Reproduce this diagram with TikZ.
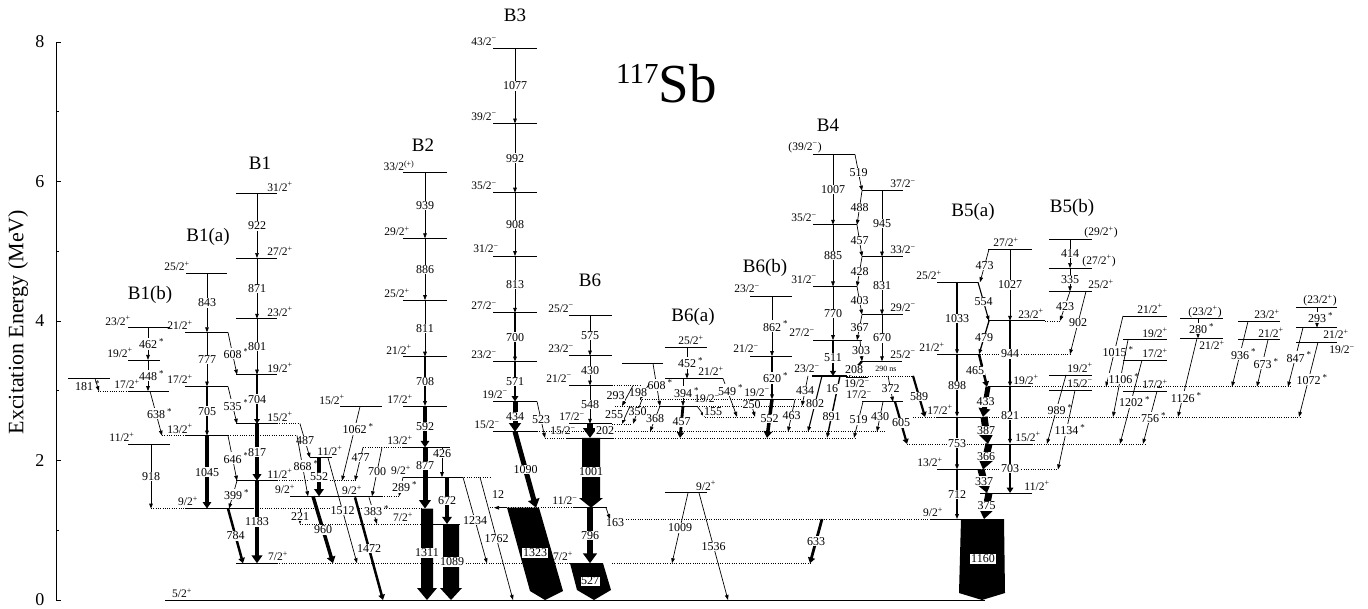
\documentclass[tikz,border=0pt]{standalone}
\usepackage{fontspec}
\setmainfont{Liberation Serif}
\usetikzlibrary{arrows.meta}
\newcommand\EY[1]{600-0.06975*#1}
\newcommand\Pp{\textsuperscript{+}}
\newcommand\Mm{\textsuperscript{−}}
\newcommand\astk{\rlap{\,\raisebox{0.35em}{\fontsize{9}{9}\selectfont *}}}
\NewDocumentCommand\lvl{O{} m m m}{\draw[lev,#1] (#2,{\EY{#4}}) -- (#3,{\EY{#4}});}
\NewDocumentCommand\dlv{m m m}{\draw[dlev] (#1,{\EY{#3}}) -- (#2,{\EY{#3}});}
\NewDocumentCommand\gmm{O{} O{} m m m m m}{\draw[gam,#1] (#3,{\EY{#4}}) -- node[glab,pos=0.5,#2]{#7} (#5,{\EY{#6}});}
\NewDocumentCommand\spn{O{} m m m}{\node[slab,#1] at (#2,{\EY{#3}-7}) {#4};}
\tikzset{
  lev/.style={line width=0.8pt},
  dlev/.style={line width=0.6pt, dash pattern=on 0.9pt off 1.4pt},
  gam/.style={line width=0.7pt, -{Triangle[length=5pt,width=3.6pt]}},
  tk/.style={line width=#1, -{Triangle[length=2pt 1.3,width=1.5pt 2]}},
  tk/.default=3pt,
  glab/.style={fill=white, inner sep=0.7pt, font=\fontsize{12}{12}\selectfont},
  slab/.style={inner sep=0pt, font=\fontsize{11.5}{11.5}\selectfont},
  btit/.style={font=\fontsize{19}{19}\selectfont},
  ticklab/.style={font=\fontsize{18}{18}\selectfont, anchor=east}
}
\begin{document}
\begin{tikzpicture}[x=1pt,y=-1pt]
\fill[white] (0,0) rectangle (1368,608);
\useasboundingbox (0,0) rectangle (1368,608);
% axis
\draw[line width=0.8pt] (56,42) -- (56,600);
\foreach \k in {0,2,4,6,8}{\draw[line width=0.8pt] (56,{600-69.75*\k}) -- (61,{600-69.75*\k});
  \node[ticklab] at (48,{600-69.75*\k}) {\k};}
\foreach \k in {1,3,5,7}{\draw[line width=0.8pt] (56,{600-69.75*\k}) -- (59,{600-69.75*\k});}
\node[rotate=90, font=\fontsize{22}{22}\selectfont] at (18,322) {Excitation Energy (MeV)};
\node[anchor=base west, inner sep=0pt] at (616,102) {{\fontsize{29}{29}\selectfont\raisebox{19pt}{117}}{\fontsize{55}{55}\selectfont Sb}};
% titles
\node[btit] at (150,295) {B1(b)};
\node[btit] at (208,237) {B1(a)};
\node[btit] at (260,163) {B1};
\node[btit] at (423,145) {B2};
\node[btit] at (515,15) {B3};
\node[btit] at (590,280) {B6};
\node[btit] at (693,317) {B6(a)};
\node[btit] at (765,268) {B6(b)};
\node[btit] at (828,125) {B4};
\node[btit] at (973,212) {B5(a)};
\node[btit] at (1072,208) {B5(b)};
% ---------- levels ----------
\lvl{165}{985}{0}
% B1(b)
\lvl{128}{170}{3904}\lvl{128}{160}{3442}\lvl{128}{169}{2994}\dlv{98}{128}{2994}
\lvl{68}{110}{3175}\lvl{128}{170}{2229}
% B1(a)
\lvl{186}{227}{4681}\lvl{185}{228}{3838}\lvl{185}{228}{3061}\lvl{185}{228}{2356}
\dlv{162}{185}{2356}\dlv{228}{297}{2356}
\lvl{185}{253}{1311}\dlv{151}{185}{1311}\dlv{253}{421}{1311}
% B1
\lvl{236}{277}{5825}\lvl{236}{277}{4903}\lvl{236}{277}{4032}\lvl{236}{277}{3231}
\lvl{236}{277}{2527}\dlv{277}{300}{2527}
\lvl{236}{277}{1710}\dlv{277}{357}{1710}
\lvl{236}{277}{527}\dlv{277}{570}{527}\dlv{612}{810}{527}
% middle
\lvl{340}{382}{2772}\lvl{310}{332}{2039}\lvl{290}{382}{1487}\dlv{382}{400}{1487}
\dlv{363}{403}{2188}
% B2
\lvl{403}{447}{6124}\lvl{403}{447}{5185}\lvl{403}{447}{4299}\lvl{403}{447}{3488}
\lvl{403}{447}{2780}\lvl{403}{450}{2188}
\lvl{403}{462}{1761}\dlv{462}{490}{1761}
\lvl{420}{460}{1089}\dlv{300}{420}{1089}
% B3
\lvl{493}{537}{7908}\lvl{493}{537}{6831}\lvl{493}{537}{5839}\lvl{493}{537}{4931}
\lvl{493}{537}{4118}\lvl{493}{537}{3418}\lvl{493}{537}{2847}\lvl{493}{537}{2413}
\dlv{537}{885}{2413}
\lvl{573}{607}{1323}\dlv{490}{573}{1323}
% B6
\lvl{569}{612}{4079}\lvl{569}{612}{3504}\lvl{569}{612}{3074}\lvl{569}{612}{2526}
\dlv{612}{640}{3074}\dlv{612}{632}{2526}
\lvl{567}{613}{2324}\dlv{545}{567}{2324}\dlv{613}{855}{2324}
\dlv{610}{930}{1160}\lvl{930}{961}{1160}
% B6(a)
\lvl{622}{663}{3389}\lvl{665}{707}{3627}\lvl{665}{723}{3175}
\lvl{660}{697}{2781}\dlv{615}{660}{2781}\dlv{697}{808}{2781}
\dlv{705}{755}{2626}
\lvl{665}{707}{1536}
% B6(b)
\lvl{750}{792}{4358}\lvl{750}{792}{3496}
\lvl{750}{793}{2876}\dlv{640}{750}{2876}\dlv{793}{800}{2876}
% B4
\lvl{813}{855}{6387}\lvl{862}{903}{5868}\lvl{813}{857}{5380}\lvl{862}{903}{4923}
\lvl{813}{857}{4495}\lvl{862}{903}{4092}\lvl{813}{862}{3725}\lvl{860}{902}{3422}
\lvl[line width=2pt]{812}{847}{3214}\dlv{847}{913}{3214}
\lvl{846}{868}{3190}
\lvl{862}{903}{2843}
% B5(a)
\lvl{937}{978}{4556}\lvl{937}{980}{3523}\dlv{980}{1070}{3523}
\lvl{937}{980}{2625}\dlv{913}{937}{2625}\dlv{980}{1300}{2625}
\lvl{937}{980}{1872}\dlv{980}{1058}{1872}
\lvl{988}{1032}{5029}\lvl{988}{1045}{4002}\dlv{1045}{1060}{4002}
\lvl{988}{1030}{3058}\dlv{1030}{1290}{3058}
\lvl{985}{1032}{2238}\dlv{907}{985}{2238}\dlv{1032}{1145}{2238}
\lvl{980}{1032}{1535}
% B5(b)
\lvl{1049}{1092}{5174}\lvl{1049}{1092}{4760}\lvl{1049}{1092}{4425}
\lvl{1049}{1092}{3227}\lvl{1049}{1092}{3006}
% far right
\lvl{1123}{1167}{4073}\lvl{1123}{1167}{3731}\lvl{1123}{1167}{3440}\lvl{1123}{1167}{2994}
\lvl{1180}{1223}{4031}\lvl{1180}{1223}{3751}
\lvl{1238}{1280}{3994}\lvl{1238}{1280}{3731}
\lvl{1296}{1337}{4198}\lvl{1296}{1337}{3905}\lvl{1296}{1337}{3697}
% ---------- big boxes ----------
\fill (421,508.6) -- (433,508.6) -- (433,588) -- (437,588) -- (427,600) -- (417,588) -- (421,588) -- cycle;
\node[glab] at (427,553) {1311};
\fill (443,524) -- (459,524) -- (459,588) -- (462,588) -- (451,600) -- (440,588) -- (443,588) -- cycle;
\node[glab] at (452,562) {1089};
\fill (507,507.7) -- (539,507.7) -- (563,591) -- (545,600) -- (530,591) -- cycle;
\node[glab] at (535,553) {1323};
\fill (582,437.9) -- (600,437.9) -- (600,498) -- (603,498) -- (591,507.7) -- (579,498) -- (582,498) -- cycle;
\node[glab] at (591,472) {1001};
\fill (570,563.2) -- (603,563.2) -- (611,590) -- (594,600) -- (577,590) -- cycle;
\node[fill=white, draw, line width=0.4pt, inner sep=1pt, font=\fontsize{12}{12}\selectfont] at (590,581) {527};
\fill (961,519) -- (1004,519) -- (1005,593) -- (982,600) -- (959,593) -- cycle;
\node[fill=white, inner sep=1.2pt, font=\fontsize{12}{12}\selectfont] at (983,559) {1160};
% ---------- gammas ----------
% B1(b)
\gmm{148}{3904}{148}{3442}{462\astk}
\gmm{148}{3442}{148}{2994}{448\astk}
\gmm{150}{2994}{162}{2356}{638\astk}
\gmm[][xshift=-13pt,yshift=-1pt]{95}{3175}{99}{2994}{181\astk}
\gmm[line width=1pt]{151}{2229}{151}{1311}{918}
% B1(a)
\gmm{207}{4681}{207}{3838}{843}
\gmm[line width=0.9pt]{207}{3838}{207}{3061}{777}
\gmm[line width=1.1pt]{207}{3061}{207}{2356}{705}
\gmm[tk=3.5pt]{207}{2356}{207}{1311}{1045}
\gmm{228}{3838}{237}{3231}{608\astk}
\gmm{228}{3061}{237}{2527}{535\astk}
\gmm{228}{2356}{237}{1710}{646\astk}
\gmm{237}{1710}{229}{1311}{399\astk}
\gmm[tk=2.5pt]{228}{1311}{243}{527}{784}
% B1
\gmm{257}{5825}{257}{4903}{922}
\gmm{257}{4903}{257}{4032}{871}
\gmm{257}{4032}{257}{3231}{801}
\gmm[tk=2pt]{257}{3231}{257}{2527}{704}
\gmm[tk=3.5pt]{257}{2527}{257}{1710}{817}
\gmm[tk=4.5pt]{257}{1710}{257}{527}{1183}
% middle
\gmm{300}{2527}{310}{2039}{487}
\gmm{297}{2356}{308}{1487}{868\astk}
\gmm[tk=4pt]{319}{2039}{319}{1487}{552}
\gmm{328}{2039}{357}{527}{1512}
\gmm[tk=3.5pt]{313}{1487}{333}{527}{960}
\gmm[][pos=0.3]{360}{2772}{342}{1710}{1062\astk}
\gmm[][pos=0.3]{363}{2188}{355}{1710}{477}
\gmm{382}{2188}{372}{1487}{700}
\gmm{369}{1472}{377}{1089}{383\astk}
\gmm[tk=2.5pt]{355}{1472}{383}{0}{1472}
\gmm{300}{1311}{300}{1089}{221}
\gmm{403}{1761}{399}{1487}{289\astk}
% B2
\gmm{425}{6124}{425}{5185}{939}
\gmm{425}{5185}{425}{4299}{886}
\gmm{425}{4299}{425}{3488}{811}
\gmm[line width=1.5pt]{425}{3488}{425}{2780}{708}
\gmm[tk=3.5pt]{425}{2780}{425}{2188}{592}
\gmm[tk=5pt][pos=0.3]{425}{2188}{425}{1311}{877}
\gmm[][pos=0.2]{442}{2188}{442}{1761}{426}
\gmm[tk=4pt]{447}{1761}{447}{1089}{672}
\gmm{463}{1761}{487}{527}{1234}
\gmm{480}{1761}{513}{0}{1762}
% B3
\gmm{515}{7908}{515}{6831}{1077}
\gmm{515}{6831}{515}{5839}{992}
\gmm{515}{5839}{515}{4931}{908}
\gmm{515}{4931}{515}{4118}{813}
\gmm[line width=1.2pt]{515}{4118}{515}{3418}{700}
\gmm[tk=2.5pt]{515}{3418}{515}{2847}{571}
\gmm[tk=5pt]{515}{2847}{515}{2413}{434}
\gmm{537}{2847}{545}{2324}{523}
\gmm[tk=5pt]{515}{2413}{536}{1323}{1090}
\draw[gam] (506,{\EY{1323}}) -- (494,{\EY{1323}});
\node[glab] at (498,495) {12};
% B6
\gmm{590}{4079}{590}{3504}{575}
\gmm{590}{3504}{590}{3074}{430}
\gmm{590}{3074}{590}{2526}{548}
\gmm[tk=6pt][xshift=15pt]{590}{2526}{590}{2324}{202}
\gmm[tk=6pt]{590}{1323}{590}{527}{796}
\gmm[][xshift=7pt,yshift=-9pt]{606}{1323}{610}{1160}{163}
% B6(a)
\gmm{687}{3627}{687}{3175}{452\astk}
\gmm{683}{3175}{683}{2781}{394\astk}
\gmm[tk=2.8pt]{683}{2781}{680}{2324}{457}
\gmm[][pos=0.3]{723}{3175}{737}{2626}{549\astk}
\gmm[][xshift=12pt]{697}{2781}{705}{2626}{155}
\gmm{653}{3389}{660}{2781}{608\astk}
\gmm{660}{2781}{650}{2413}{368}
\gmm[][xshift=-6pt]{648}{3074}{640}{2876}{198}
\gmm{642}{2876}{633}{2526}{350}
\gmm[][xshift=-12pt]{633}{3074}{622}{2781}{293}
\gmm[][xshift=-12pt]{630}{2781}{622}{2526}{255}
\gmm{688}{1536}{672}{527}{1009}
\gmm{699}{1536}{728}{0}{1536}
\gmm[tk=2.8pt]{822}{1160}{810}{527}{633}
% B6(b)
\gmm{772}{4358}{772}{3496}{862\astk}
\gmm[line width=1.2pt]{772}{3496}{772}{2876}{620\astk}
\gmm[tk=3.5pt]{772}{2876}{767}{2324}{552}
\gmm[][pos=0.3]{750}{2876}{755}{2626}{250}
% B4
\gmm{833}{6387}{833}{5380}{1007}
\gmm{855}{6387}{862}{5868}{519}
\gmm{862}{5868}{857}{5380}{488}
\gmm{857}{5380}{862}{4923}{457}
\gmm{862}{4923}{857}{4495}{428}
\gmm{857}{4495}{862}{4092}{403}
\gmm{862}{4092}{857}{3725}{367}
\gmm{882}{5868}{882}{4923}{945}
\gmm{882}{4923}{882}{4092}{831}
\gmm{882}{4092}{882}{3422}{670}
\gmm{833}{5380}{833}{4495}{885}
\gmm{833}{4495}{833}{3725}{770}
\gmm[tk=2.2pt]{833}{3725}{833}{3214}{511}
\gmm{860}{3725}{862}{3422}{303}
\gmm[tk=2.2pt][pos=0.6]{862}{3422}{849}{3214}{208}
\gmm{808}{3214}{802}{2781}{434}
\gmm[line width=1.1pt]{822}{3214}{808}{2413}{802}
\gmm[line width=1.4pt][pos=0.65]{840}{3214}{827}{2324}{891}
\gmm{795}{2876}{788}{2413}{463}
\gmm{863}{2843}{854}{2324}{519}
\gmm{883}{2843}{877}{2413}{430}
\gmm{888}{3214}{893}{2843}{372}
\gmm[tk=2.2pt]{895}{2843}{907}{2238}{605}
\gmm[tk=2.2pt]{913}{3214}{925}{2625}{589}
\node[glab] at (832,389) {16};
\node[inner sep=0pt, font=\fontsize{8}{8}\selectfont] at (886,369) {290 ns};
% B5(a)
\gmm[line width=1.2pt]{957}{4556}{957}{3523}{1033}
\gmm[line width=1.2pt]{957}{3523}{957}{2625}{898}
\gmm[line width=1.4pt]{957}{2625}{957}{1872}{753}
\gmm[line width=1.4pt]{957}{1872}{957}{1160}{712}
\gmm{1010}{5029}{1010}{4002}{1027}
\gmm[line width=1.5pt]{1010}{4002}{1010}{3058}{944}
\gmm[line width=2pt]{1010}{3058}{1010}{2238}{821}
\gmm[tk=2.5pt]{1010}{2238}{1010}{1535}{703}
\gmm{989}{5029}{980}{4556}{473}
\gmm[line width=1.1pt]{978}{4556}{989}{4002}{554}
\gmm[line width=1.3pt]{989}{4002}{979}{3523}{479}
\gmm[tk=2.5pt][xshift=-8pt]{979}{3523}{987}{3058}{465}
\gmm[tk=5pt]{988}{3058}{983}{2625}{433}
\gmm[tk=7pt]{984}{2625}{988}{2238}{387}
\gmm[tk=7pt]{989}{2238}{983}{1872}{366}
\gmm[tk=7pt]{981}{1872}{987}{1535}{337}
\gmm[tk=7pt]{989}{1535}{984}{1160}{375}
% B5(b)
\gmm{1070}{5174}{1070}{4760}{414}
\gmm{1070}{4760}{1070}{4425}{335}
\gmm{1070}{4425}{1060}{4002}{423}
\gmm{1086}{4425}{1070}{3523}{902}
\gmm{1066}{3227}{1047}{2238}{989\astk}
\gmm{1075}{3006}{1058}{1872}{1134\astk}
% far right
\gmm{1123}{4073}{1106}{3058}{1015\astk}
\gmm{1128}{3731}{1113}{2625}{1106\astk}
\gmm{1142}{3440}{1120}{2238}{1202\astk}
\gmm{1157}{2994}{1143}{2238}{756\astk}
\gmm[][pos=0.75]{1197}{3751}{1178}{2625}{1126\astk}
\gmm{1198}{4031}{1198}{3751}{280\astk}
\gmm{1248}{3994}{1232}{3058}{936\astk}
\gmm{1268}{3731}{1257}{3058}{673\astk}
\gmm{1317}{4198}{1317}{3905}{293\astk}
\gmm{1303}{3905}{1288}{3058}{847\astk}
\gmm{1318}{3697}{1299}{2625}{1072\astk}
% ---------- spin labels ----------
\spn{182}{0}{5/2\Pp}
\spn{118}{3904}{23/2\Pp}\spn{120}{3442}{19/2\Pp}\spn{127}{2994}{17/2\Pp}\spn{122}{2229}{11/2\Pp}
\spn{177}{4681}{25/2\Pp}\spn{180}{3838}{21/2\Pp}\spn{180}{3061}{17/2\Pp}\spn{180}{2356}{13/2\Pp}\spn{188}{1311}{9/2\Pp}
\spn{280}{5825}{31/2\Pp}\spn{280}{4903}{27/2\Pp}\spn{280}{4032}{23/2\Pp}\spn{280}{3231}{19/2\Pp}
\spn{280}{2527}{15/2\Pp}\spn{280}{1710}{11/2\Pp}\spn{278}{527}{7/2\Pp}
\spn{332}{2772}{15/2\Pp}\spn{330}{2039}{11/2\Pp}\spn{285}{1487}{9/2\Pp}\spn{352}{1472}{9/2\Pp}
\spn{399}{6124}{33/2\textsuperscript{(+)}}\spn{397}{5185}{29/2\Pp}\spn{397}{4299}{25/2\Pp}
\spn{399}{3488}{21/2\Pp}\spn{400}{2780}{17/2\Pp}\spn{400}{2188}{13/2\Pp}\spn{401}{1761}{9/2\Pp}\spn{403}{1089}{7/2\Pp}
\spn{484}{7908}{43/2\Mm}\spn{484}{6831}{39/2\Mm}\spn{484}{5839}{35/2\Mm}\spn{486}{4931}{31/2\Mm}
\spn{484}{4118}{27/2\Mm}\spn{484}{3418}{23/2\Mm}\spn{495}{2847}{19/2\Mm}\spn{487}{2413}{15/2\Mm}
\spn{561}{4079}{25/2\Mm}\spn{561}{3504}{23/2\Mm}\spn{559}{3074}{21/2\Mm}\spn{572}{2526}{17/2\Mm}
\spn{563}{2324}{15/2\Mm}\spn{565}{1323}{11/2\Mm}\spn{563}{527}{7/2\Pp}
\spn{691}{3627}{25/2\Pp}\spn{711}{3175}{21/2\Pp}\spn{707}{2781}{19/2\Mm}\spn{706}{1536}{9/2\Pp}
\spn{747}{4358}{23/2\Mm}\spn{746}{3496}{21/2\Mm}\spn{757}{2876}{19/2\Mm}
\spn{805}{6387}{(39/2\Mm)}\spn{903}{5868}{37/2\Mm}\spn{804}{5380}{35/2\Mm}\spn{903}{4923}{33/2\Mm}
\spn{804}{4495}{31/2\Mm}\spn{903}{4092}{29/2\Mm}\spn{802}{3725}{27/2\Mm}\spn{903}{3422}{25/2\Mm}
\spn{807}{3214}{23/2\Mm}\spn{859}{2843}{17/2\Mm}
\node[slab] at (857,384) {19/2\Mm};
\spn{929}{4556}{25/2\Pp}\spn{932}{3523}{21/2\Pp}\spn{940}{2625}{17/2\Pp}\spn{930}{1872}{13/2\Pp}\spn{933}{1160}{9/2\Pp}
\spn{1006}{5029}{27/2\Pp}\spn{1031}{4002}{23/2\Pp}\spn{1026}{3058}{19/2\Pp}\spn{1028}{2238}{15/2\Pp}\spn{1037}{1535}{11/2\Pp}
\spn{1101}{5174}{(29/2\Pp)}\spn{1099}{4760}{(27/2\Pp)}\spn{1101}{4425}{25/2\Pp}\spn{1080}{3227}{19/2\Pp}\spn{1080}{3006}{15/2\Mm}
\spn{1150}{4073}{21/2\Pp}\spn{1155}{3731}{19/2\Pp}\spn{1155}{3440}{17/2\Pp}\spn{1155}{2994}{17/2\Pp}
\spn{1205}{4031}{(23/2\Pp)}\node[slab] at (1212,345) {21/2\Pp};
\spn{1267}{3994}{23/2\Pp}\spn{1271}{3731}{21/2\Pp}
\spn{1320}{4198}{(23/2\Pp)}\node[slab] at (1336,334) {21/2\Pp};\node[slab] at (1342,350) {19/2\Mm};
\end{tikzpicture}
\end{document}
